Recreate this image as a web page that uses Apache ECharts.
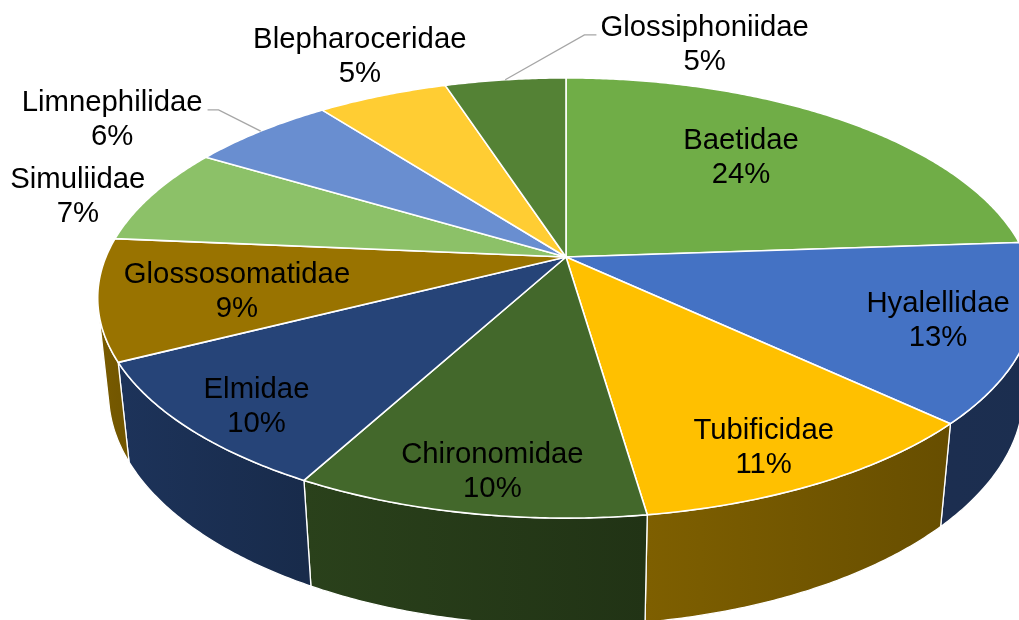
<!DOCTYPE html>
<html><head><meta charset="utf-8">
<script src="https://cdn.jsdelivr.net/npm/echarts@6/dist/echarts.min.js"></script>
<style>html,body{margin:0;padding:0;background:#fff}#chart{width:1019px;height:620px}</style>
</head><body><div id="chart"></div>
<script>
// ---- data ----
const categories = ['Baetidae','Hyalellidae','Tubificidae','Chironomidae','Elmidae','Glossosomatidae','Simuliidae','Limnephilidae','Blepharoceridae','Glossiphoniidae'];
const shares = [23.9, 13.1, 10.7, 10.2, 9.6, 8.9, 7.2, 6.0, 5.4, 5.0];

// ---- styles / layout (not data) ----
const sliceColors = ['#70AD47','#4472C4','#FFC000','#43682B','#264478','#997300','#8CC168','#698ED0','#FFCD33','#548235'];
// label placement in disk polar coords: [radius factor, angle in degrees clockwise from back]
const labelPlacement = [[0.659,39.2],[0.817,110.4],[0.852,154.4],[0.861,189.0],[0.862,223.6],[0.712,257.0],[1.160,285.0],[1.340,303.2],[1.262,334.5],[1.281,16.8]];
const leaderLines = [false,false,false,false,false,false,false,true,false,true];

const FONT_SIZE = 29.3, LINE_H = 34;
const FONT = FONT_SIZE + 'px "Liberation Sans", Arial, sans-serif';

// 3D projection of the pie (perspective, tilted disk)
const VIEW = { cx: 566, cy: 257, focal: 2190, dist: 4.76, tilt: 27.5 * Math.PI / 180, depth: 0.235 };
const cosT = Math.cos(VIEW.tilt), sinT = Math.sin(VIEW.tilt);
function proj(X, Y, Z) {
  const yc = Y * cosT + Z * sinT;
  const zc = Z * cosT - Y * sinT;
  const k = VIEW.focal / (VIEW.dist + zc);
  return [VIEW.cx + X * k, VIEW.cy - yc * k];
}
function diskPoint(r, deg, y) {
  const a = deg * Math.PI / 180;
  return proj(r * Math.sin(a), y || 0, r * Math.cos(a));
}
// visible range of the outer wall
const visDeg = Math.acos(-1 / (VIEW.dist * cosT)) * 180 / Math.PI;

function shade(hex, deg) {
  const a = deg * Math.PI / 180;
  const f = 0.62 - 0.2 * Math.sin(a) + 0.1 * Math.cos(a);
  const n = parseInt(hex.slice(1), 16);
  const r = Math.round(((n >> 16) & 255) * f), g = Math.round(((n >> 8) & 255) * f), b = Math.round((n & 255) * f);
  return 'rgb(' + r + ',' + g + ',' + b + ')';
}

const measureCtx = document.createElement('canvas').getContext('2d');
measureCtx.font = FONT;

const total = shares.reduce((s, v) => s + v, 0);
const startAngles = [];
shares.reduce((acc, v, i) => { startAngles[i] = acc / total * 360; return acc + v; }, 0);

function arcPoints(a0, a1, y) {
  const pts = [];
  const steps = Math.max(2, Math.ceil((a1 - a0) / 0.5));
  for (let s = 0; s <= steps; s++) pts.push(diskPoint(1, a0 + (a1 - a0) * s / steps, y));
  return pts;
}

function renderItem(params, api) {
  const i = params.dataIndex;
  const value = api.value(1);
  const a0 = startAngles[i];
  const a1 = a0 + value / total * 360;
  const color = sliceColors[i];
  const children = [];

  // outer wall (front part only)
  const b0 = Math.max(a0, visDeg), b1 = Math.min(a1, 360 - visDeg);
  if (b1 > b0) {
    const top = arcPoints(b0, b1, 0);
    const bottom = arcPoints(b0, b1, -VIEW.depth).reverse();
    const xA = top[0][0], xB = top[top.length - 1][0];
    const left = Math.min(xA, xB), right = Math.max(xA, xB);
    const cLeft = xA <= xB ? shade(color, b0) : shade(color, b1);
    const cRight = xA <= xB ? shade(color, b1) : shade(color, b0);
    children.push({
      type: 'polygon', z2: 1,
      shape: { points: top.concat(bottom) },
      style: {
        fill: { type: 'linear', x: left, y: 0, x2: right, y2: 0, global: true,
                colorStops: [{ offset: 0, color: cLeft }, { offset: 1, color: cRight }] },
        stroke: '#ffffff', lineWidth: 1.3, lineJoin: 'round'
      }
    });
  }

  // top face
  children.push({
    type: 'polygon', z2: 10,
    shape: { points: [proj(0, 0, 0)].concat(arcPoints(a0, a1, 0)) },
    style: { fill: color, stroke: '#ffffff', lineWidth: 1.6, lineJoin: 'round' }
  });

  // label
  const pl = labelPlacement[i];
  const lp = diskPoint(pl[0], pl[1], 0);
  const pct = Math.round(value / total * 100) + '%';
  children.push({
    type: 'text', z2: 20, x: lp[0], y: lp[1],
    style: { text: categories[i] + '\n' + pct, fill: '#000000', font: FONT,
             align: 'center', verticalAlign: 'middle', lineHeight: LINE_H }
  });

  if (leaderLines[i]) {
    const mid = (a0 + a1) / 2;
    const start = diskPoint(1, mid, 0);
    const w = measureCtx.measureText(categories[i]).width;
    const ly = lp[1] - 10;
    let end, elbow;
    if (start[0] < lp[0]) { end = lp[0] - w / 2 - 4; elbow = end - 12; }
    else { end = lp[0] + w / 2 + 5; elbow = end + 11; }
    children.push({
      type: 'polyline', z2: 15,
      shape: { points: [start, [elbow, ly], [end, ly]] },
      style: { stroke: '#a6a6a6', lineWidth: 1.3, fill: null }
    });
  }
  return { type: 'group', children: children };
}

const chart = echarts.init(document.getElementById('chart'), null, { renderer: 'canvas' });
chart.setOption({
  backgroundColor: '#ffffff',
  animation: false,
  series: [{
    type: 'custom',
    coordinateSystem: 'none',
    silent: true,
    data: shares.map((v, i) => [i, v]),
    renderItem: renderItem
  }]
});
</script>
</body></html>
